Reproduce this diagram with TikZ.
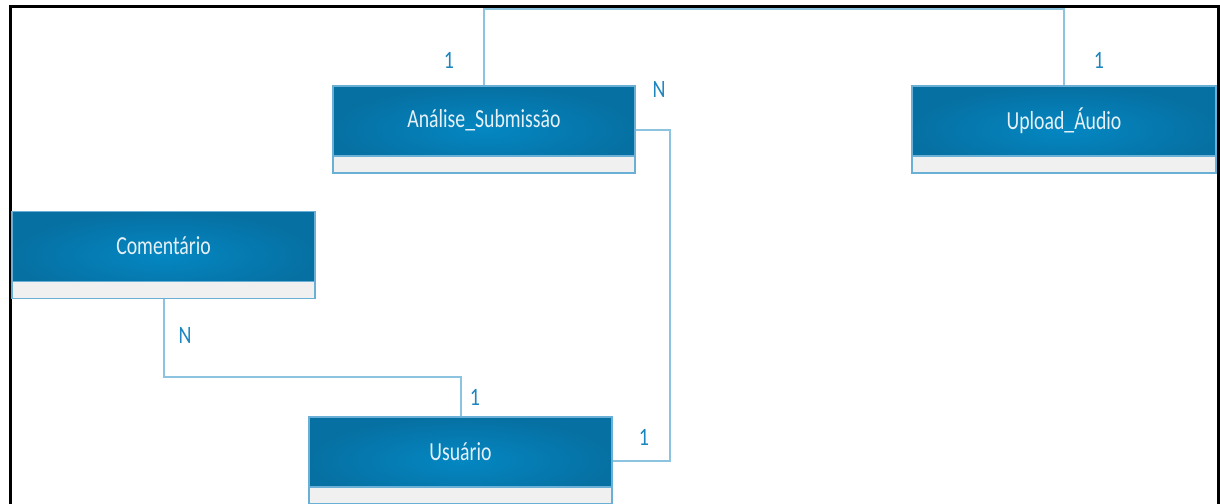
\documentclass[tikz,border=0pt]{standalone}
\usepackage{fontspec}
\setmainfont{Carlito}
\usetikzlibrary{calc}
\definecolor{hdrdark}{HTML}{0670A2}
\definecolor{hdrlight}{HTML}{0487C2}
\definecolor{boxedge}{HTML}{6AB0D6}
\definecolor{stripgray}{HTML}{F0F0F0}
\definecolor{connblue}{HTML}{8CC4E0}
\definecolor{labblue}{HTML}{1E86BE}
\definecolor{titlewhite}{HTML}{E6F1F7}
\tikzset{
  entity/.style={rectangle, minimum width=302pt, minimum height=87pt, inner sep=0pt,
    path picture={
      \shade[inner color=hdrlight, outer color=hdrdark]
        (path picture bounding box.north west) rectangle ([yshift=17pt]path picture bounding box.south east);
      \fill[stripgray] ([yshift=17pt]path picture bounding box.south west) rectangle (path picture bounding box.south east);
      \draw[boxedge, line width=1.5pt] ([yshift=17pt]path picture bounding box.south west) -- ([yshift=17pt]path picture bounding box.south east);
    },
    draw=boxedge, line width=1.5pt},
  etitle/.style={text=titlewhite, font=\fontsize{26}{28}\selectfont, inner sep=0pt, anchor=center},
  conn/.style={draw=connblue, line width=2pt},
  card/.style={text=labblue, font=\fontsize{25}{27}\selectfont, inner sep=0pt, anchor=center},
  frameline/.style={draw=black, line width=3pt}
}
\begin{document}
\begin{tikzpicture}[x=1pt, y=-1pt]
\useasboundingbox (0,0) rectangle (1220,503);
\begin{scope}
\clip (0,0) rectangle (1220,503);
% frame
\draw[frameline] (10,510) -- (10,7) -- (1218.5,7) -- (1218.5,510);
% entities
\node[entity] (ana) at (484,129.5) {};
\node[entity, minimum width=304pt] (upl) at (1064,129.5) {};
\node[entity, minimum width=303pt] (com) at (163.5,255) {};
\node[entity, minimum width=303pt] (usu) at (460.5,460.5) {};
\node[etitle] (anat) at ([yshift=-35pt]ana.north) {\scalebox{0.76}[1]{Análise\_Submissão}};
\node[etitle] (uplt) at ([yshift=-35pt]upl.north) {\scalebox{0.76}[1]{Upload\_Áudio}};
\node[etitle] (comt) at ([yshift=-35pt]com.north) {\scalebox{0.76}[1]{Comentário}};
\node[etitle] (usut) at ([yshift=-35pt]usu.north) {\scalebox{0.76}[1]{Usuário}};
% helper coordinates
\coordinate (topline) at (0,9.5);
\coordinate (rightline) at (670,0);
\coordinate (midline) at (0,377);
% connectors
\draw[conn] (ana.north) -- (ana.north |- topline) -| (upl.north);
\draw[conn] (ana.east) -- (ana.east -| rightline) |- (usu.east);
\draw[conn] (com.south) -- (com.south |- midline) -| (usu.north);
% cardinalities
\node[card] (c1) at (449,60) {\scalebox{0.8}[1]{1}};
\node[card] (c2) at (659,89) {\scalebox{0.8}[1]{N}};
\node[card] (c3) at (1099,60) {\scalebox{0.8}[1]{1}};
\node[card] (c4) at (185,335) {\scalebox{0.8}[1]{N}};
\node[card] (c5) at (475,397) {\scalebox{0.8}[1]{1}};
\node[card] (c6) at (644,437) {\scalebox{0.8}[1]{1}};
\end{scope}
\end{tikzpicture}
\end{document}
